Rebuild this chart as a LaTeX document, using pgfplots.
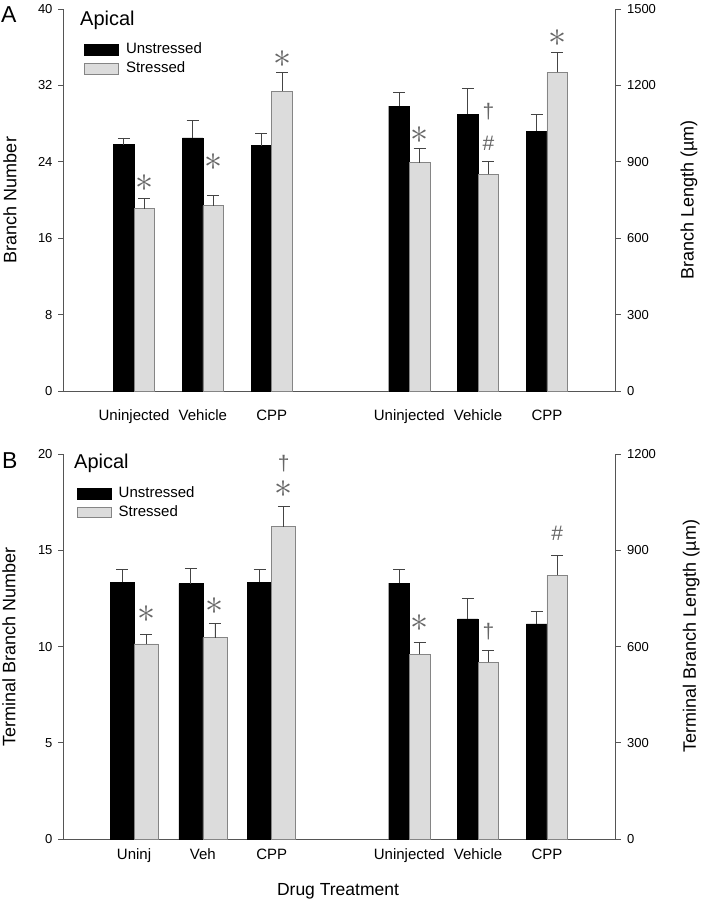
\documentclass[border=0pt]{standalone}
\usepackage{fontspec}
\setmainfont{Liberation Sans}
\usepackage{pgfplots}
\pgfplotsset{compat=1.18}
\definecolor{barg}{HTML}{DCDCDC}
\definecolor{bard}{HTML}{858585}
\definecolor{axc}{HTML}{555555}
\definecolor{annc}{HTML}{666666}
\definecolor{errc}{HTML}{444444}
\newcommand{\fs}[1]{\fontsize{#1}{#1}\selectfont}
\newcommand{\AST}{\scalebox{1.45}{$\ast$}}

\tikzset{
 ann/.style={font=\fs{24}, text=annc, inner sep=0pt},
 annt/.style={font=\fs{21}, text=annc, inner sep=0pt},
}
\pgfplotsset{
 base/.style={scale only axis, width=552.5pt, xmin=-1.033, xmax=6.996, ymin=0,
   axis line style={axc, line width=0.8pt}, tick style={axc, line width=0.8pt},
   tick align=outside, major tick length=5pt,
   /pgf/number format/assume math mode=true,
   /pgf/number format/1000 sep={},
   ylabel style={font=\fs{18}, anchor=center},
   clip=false},
 errs/.style={error bars/.cd, y dir=plus, y explicit,
   error bar style={errc, line width=0.8pt},
   error mark options={errc, rotate=90, mark size=6pt, line width=0.8pt}},
 blk/.style={ybar, fill=black, draw=black, bar width=#1, bar shift=0pt, errs},
 gry/.style={ybar, fill=barg, draw=bard, line width=0.8pt, bar width=#1, bar shift=0pt, errs},
 myleg/.style 2 args={legend style={at={(axis description cs:#1,#2)}, anchor=north west,
   draw=none, fill=none, font=\fs{15}, column sep=5pt, row sep=1pt,
   nodes={inner sep=2pt, text height=11pt, text depth=3pt}},
   legend cell align=left,
   legend image code/.code={\draw[##1] (0pt,-5.3pt) rectangle (34pt,5.3pt);}},
}

\begin{document}
\begin{tikzpicture}
\useasboundingbox (0,0) rectangle (701pt,900pt);

% ---------------- Panel A ----------------
\begin{axis}[base, at={(63pt,509pt)}, anchor=south west, height=382pt,
  ymax=40, ytick={0,8,...,40},
  axis x line*=bottom, axis y line*=left,
  yticklabel style={font=\fs{13}, xshift=-2pt},
  xtick={0,1,2,4,5,6},
  xticklabels={Uninjected,Vehicle,CPP,Uninjected,Vehicle,CPP},
  x tick style={draw=none},
  xticklabel style={font=\fs{15}, anchor=base, yshift=-24.5pt},
  ylabel={Branch Number},
  ylabel style={at={(axis description cs:-0.096,0.5)}},
  myleg={0.0326}{0.923}]
\addplot[blk=0.30] table[x=x,y=y,y error=e]{
x y e
-0.15 25.8 0.7
0.85 26.5 1.8
1.85 25.7 1.3
};
\addlegendentry{Unstressed}
\addplot[gry=0.30] table[x=x,y=y,y error=e]{
x y e
0.15 19.1 1.05
1.15 19.4 1.1
2.15 31.4 2.0
};
\addlegendentry{Stressed}
\node[ann] at (axis cs:0.15,21.75) {\AST};
\node[ann] at (axis cs:1.15,23.95) {\AST};
\node[ann] at (axis cs:2.15,34.76) {\AST};
\end{axis}

\begin{axis}[base, at={(63pt,509pt)}, anchor=south west, height=382pt,
  ymax=1500, ytick={0,300,...,1500},
  axis x line=none, axis y line*=right,
  yticklabel style={font=\fs{13}, xshift=3pt},
  ylabel={Branch Length (µm)},
  ylabel style={at={(axis description cs:1.133,0.5)}}]
\addplot[blk=0.30] table[x=x,y=y,y error=e]{
x y e
3.85 1119 52
4.85 1086 103
5.85 1020 65
};
\addplot[gry=0.30] table[x=x,y=y,y error=e]{
x y e
4.15 897 57
5.15 851 52
6.15 1251 79
};
\node[ann] at (axis cs:4.15,1005) {\AST};
\node[annt] at (axis cs:5.15,1097) {†};
\node[annt] at (axis cs:5.15,973) {\#};
\node[ann] at (axis cs:6.15,1387) {\AST};
\end{axis}

% ---------------- Panel B ----------------
\begin{axis}[base, at={(63pt,61pt)}, anchor=south west, height=384.7pt,
  ymax=20, ytick={0,5,...,20},
  axis x line*=bottom, axis y line*=left,
  yticklabel style={font=\fs{13}, xshift=-2pt},
  xtick={0,1,2,4,5,6},
  xticklabels={Uninj,Veh,CPP,Uninjected,Vehicle,CPP},
  x tick style={draw=none},
  xticklabel style={font=\fs{15}, anchor=base, yshift=-16pt},
  ylabel={Terminal Branch Number},
  ylabel style={at={(axis description cs:-0.098,0.5)}},
  myleg={0.0194}{0.927}]
\addplot[blk=0.35] table[x=x,y=y,y error=e]{
x y e
-0.175 13.35 0.64
0.825 13.28 0.78
1.825 13.35 0.64
};
\addlegendentry{Unstressed}
\addplot[gry=0.35] table[x=x,y=y,y error=e]{
x y e
0.175 10.14 0.52
1.175 10.47 0.75
2.175 16.24 1.04
};
\addlegendentry{Stressed}
\node[ann] at (axis cs:0.175,11.68) {\AST};
\node[ann] at (axis cs:1.175,12.12) {\AST};
\node[ann] at (axis cs:2.175,18.2) {\AST};
\node[annt] at (axis cs:2.175,19.5) {†};
\end{axis}

\begin{axis}[base, at={(63pt,61pt)}, anchor=south west, height=384.7pt,
  ymax=1200, ytick={0,300,...,1200},
  axis x line=none, axis y line*=right,
  yticklabel style={font=\fs{13}, xshift=3pt},
  ylabel={Terminal Branch Length (µm)},
  ylabel style={at={(axis description cs:1.137,0.528)}}]
\addplot[blk=0.30] table[x=x,y=y,y error=e]{
x y e
3.85 798 43
4.85 687 62
5.85 671 40
};
\addplot[gry=0.30] table[x=x,y=y,y error=e]{
x y e
4.15 576 38
5.15 551 36
6.15 823 61
};
\node[ann] at (axis cs:4.15,672.8) {\AST};
\node[annt] at (axis cs:5.15,646.6) {†};
\node[annt] at (axis cs:6.15,953.5) {\#};
\end{axis}

% ---------------- Titles ----------------
\node[font=\fs{23}, anchor=base west, inner sep=0pt] at (1pt,877.3pt) {A};
\node[font=\fs{23}, anchor=base west, inner sep=0pt] at (2pt,431pt) {B};
\node[font=\fs{20}, anchor=base west, inner sep=0pt] at (80pt,874pt) {Apical};
\node[font=\fs{20}, anchor=base west, inner sep=0pt] at (74pt,431.7pt) {Apical};
\node[font=\fs{17.5}, anchor=base, inner sep=0pt] at (338pt,5pt) {Drug Treatment};
\end{tikzpicture}
\end{document}
